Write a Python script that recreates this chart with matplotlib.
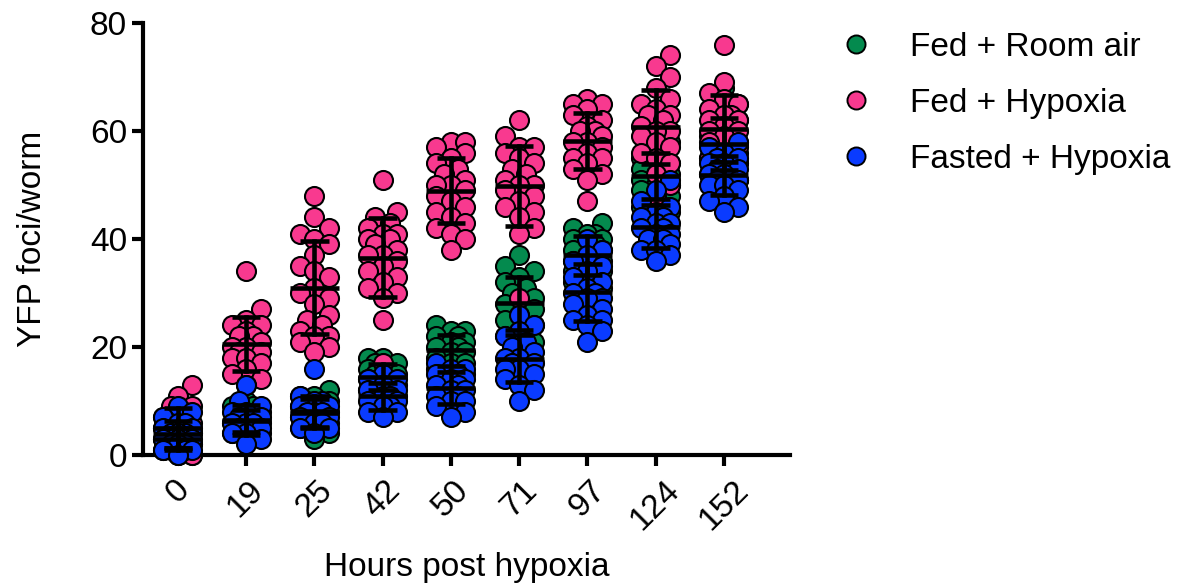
import numpy as np
import matplotlib.pyplot as plt
from matplotlib.lines import Line2D

plt.rcParams['font.family'] = ['Liberation Sans', 'DejaVu Sans']

hours = ['0', '19', '25', '42', '50', '71', '97', '124', '152']

# Fed + Room air
fed_air = [
    [7, 6, 5, 5, 4, 4, 4, 3, 3, 3, 2, 2, 2, 1, 1, 1, 0, 0],
    [10, 9, 9, 8, 8, 7, 7, 6, 6, 6, 5, 5, 5, 4, 4, 3],
    [12, 11, 11, 10, 10, 9, 9, 8, 8, 7, 7, 6, 6, 5, 5, 4, 3],
    [18, 18, 17, 17, 16, 16, 15, 15, 14, 14, 13, 13, 12, 12, 11, 10],
    [24, 23, 23, 22, 22, 21, 21, 20, 20, 19, 19, 18, 18, 17, 17, 16, 15, 14],
    [37, 35, 34, 33, 32, 31, 30, 29, 28, 28, 27, 26, 25, 24, 23, 22, 21, 20],
    [43, 42, 41, 41, 40, 40, 39, 39, 38, 38, 37, 37, 36, 36, 35, 34, 34, 33, 32, 31, 30],
    [60, 58, 57, 56, 55, 54, 54, 53, 53, 52, 52, 51, 51, 50, 50, 49, 48, 47, 46, 45, 44],
    [68, 65, 63, 62, 61, 60, 59, 58, 58, 57, 57, 56, 55, 55, 54, 53, 52, 51, 50],
]

# Fed + Hypoxia
fed_hyp = [
    [13, 11, 9, 9, 8, 7, 6, 6, 5, 5, 4, 4, 3, 3, 2, 2, 1, 1, 0, 0],
    [34, 27, 25, 24, 24, 23, 22, 22, 21, 20, 20, 19, 19, 18, 18, 17, 16, 15, 14, 13],
    [48, 44, 42, 41, 40, 39, 37, 35, 34, 33, 31, 30, 29, 28, 26, 25, 24, 23, 22, 22, 21, 20, 19],
    [51, 45, 44, 43, 42, 41, 41, 40, 40, 39, 38, 37, 37, 36, 35, 34, 33, 32, 31, 30, 29, 25, 17],
    [58, 58, 57, 56, 55, 54, 53, 52, 51, 50, 50, 49, 48, 47, 46, 45, 44, 43, 42, 41, 40, 38],
    [62, 59, 57, 57, 56, 55, 54, 53, 52, 51, 50, 50, 49, 48, 47, 46, 45, 44, 42, 41, 29],
    [66, 65, 65, 64, 63, 62, 61, 60, 60, 59, 58, 58, 57, 56, 55, 55, 54, 53, 52, 51, 47],
    [74, 72, 70, 68, 66, 65, 64, 63, 63, 62, 61, 60, 60, 59, 58, 57, 56, 55, 54, 52, 50, 48],
    [76, 69, 67, 66, 65, 64, 63, 63, 62, 62, 61, 60, 60, 59, 58, 57, 56, 55, 54, 53, 51, 49],
]

# Fasted + Hypoxia
fasted_hyp = [
    [9, 8, 7, 6, 6, 5, 5, 4, 4, 4, 3, 3, 3, 2, 2, 2, 1, 1, 1, 0],
    [13, 10, 9, 8, 8, 7, 7, 6, 6, 6, 5, 5, 4, 4, 3, 2],
    [16, 11, 10, 10, 9, 9, 8, 8, 8, 7, 7, 6, 6, 5, 5, 4],
    [15, 14, 14, 13, 12, 12, 11, 11, 10, 10, 9, 9, 8, 8, 7],
    [17, 16, 16, 15, 15, 14, 14, 13, 13, 12, 12, 11, 11, 10, 10, 9, 8, 7],
    [26, 24, 23, 22, 21, 20, 19, 18, 18, 17, 17, 16, 16, 15, 14, 13, 12, 10],
    [40, 38, 37, 36, 35, 34, 33, 32, 31, 30, 30, 29, 29, 28, 27, 26, 25, 25, 24, 23, 21],
    [51, 49, 47, 46, 45, 44, 44, 43, 43, 42, 42, 41, 41, 40, 40, 39, 38, 38, 37, 36],
    [58, 57, 56, 55, 55, 54, 54, 53, 53, 52, 52, 51, 51, 50, 50, 49, 48, 47, 46, 45],
]

groups = [
    ('Fed + Room air', fed_air, '#048A4E'),
    ('Fed + Hypoxia', fed_hyp, '#F8398F'),
    ('Fasted + Hypoxia', fasted_hyp, '#0A3BFF'),
]

DIAM = 19.0  # marker diameter in px


def swarm(vals, sx, sy):
    # bounded beeswarm: each point goes to the slot with the least crowding
    vals = np.asarray(vals, dtype=float)
    offs = np.zeros(len(vals))
    placed = []
    step = DIAM * 0.38
    slots = [0, 1, -1, 2, -2]
    for i in np.argsort(vals):
        y = vals[i] * sy
        best, bestd = 0.0, -1.0
        for k in slots:
            x = k * step
            d = min([np.hypot(x - px, y - py) for px, py in placed] or [1e9])
            if d >= DIAM * 0.8:
                best = x
                break
            if d > bestd + 0.5:
                best, bestd = x, d
        placed.append((best, y))
        offs[i] = best / sx
    return offs


fig = plt.figure(figsize=(11.84, 5.84), dpi=100)
ax = fig.add_axes([0.1208, 0.2209, 0.5465, 0.7397])
ax.set_xlim(-0.51, 8.97)
ax.set_ylim(0, 80)

p0 = ax.transData.transform((0, 0))
p1 = ax.transData.transform((1, 1))
sx, sy = p1[0] - p0[0], p1[1] - p0[1]

for z, (name, data, col) in enumerate(groups):
    for i, vals in enumerate(data):
        offs = swarm(vals, sx, sy)
        ax.scatter(i + offs, vals, s=(DIAM * 0.72) ** 2, color=col,
                   edgecolor='black', linewidth=1.5, zorder=2 + z, clip_on=False)

for name, data, col in groups:
    for i, vals in enumerate(data):
        m = np.mean(vals)
        sd = np.std(vals, ddof=1)
        ax.plot([i - 0.36, i + 0.36], [m, m], color='black', lw=3.3, zorder=10,
                solid_capstyle='butt')
        ax.plot([i, i], [m - sd, m + sd], color='black', lw=3.3, zorder=10)
        for y in (m - sd, m + sd):
            ax.plot([i - 0.21, i + 0.21], [y, y], color='black', lw=3.3, zorder=10,
                    solid_capstyle='butt')

ax.spines['top'].set_visible(False)
ax.spines['right'].set_visible(False)
for s in ('left', 'bottom'):
    ax.spines[s].set_linewidth(3)
ax.set_xticks(range(len(hours)))
ax.set_xticklabels(hours, rotation=45, ha='center', va='top')
ax.set_yticks([0, 20, 40, 60, 80])
ax.tick_params(axis='both', labelsize=24, width=3, length=8)
ax.tick_params(axis='x', pad=6)
ax.set_xlabel('Hours post hypoxia', fontsize=24, labelpad=12)
ax.set_ylabel('YFP foci/worm', fontsize=24, labelpad=30)

handles = [Line2D([], [], marker='o', linestyle='none', markersize=13,
                  markerfacecolor=col, markeredgecolor='black', markeredgewidth=1.4)
           for _, _, col in groups]
fig.legend(handles, [g[0] for g in groups], loc='upper left',
           bbox_to_anchor=(0.695, 0.968), frameon=False, fontsize=24,
           handletextpad=1.0, labelspacing=0.75, handlelength=1.2, borderaxespad=0)

fig.savefig('out.png', dpi=100)
